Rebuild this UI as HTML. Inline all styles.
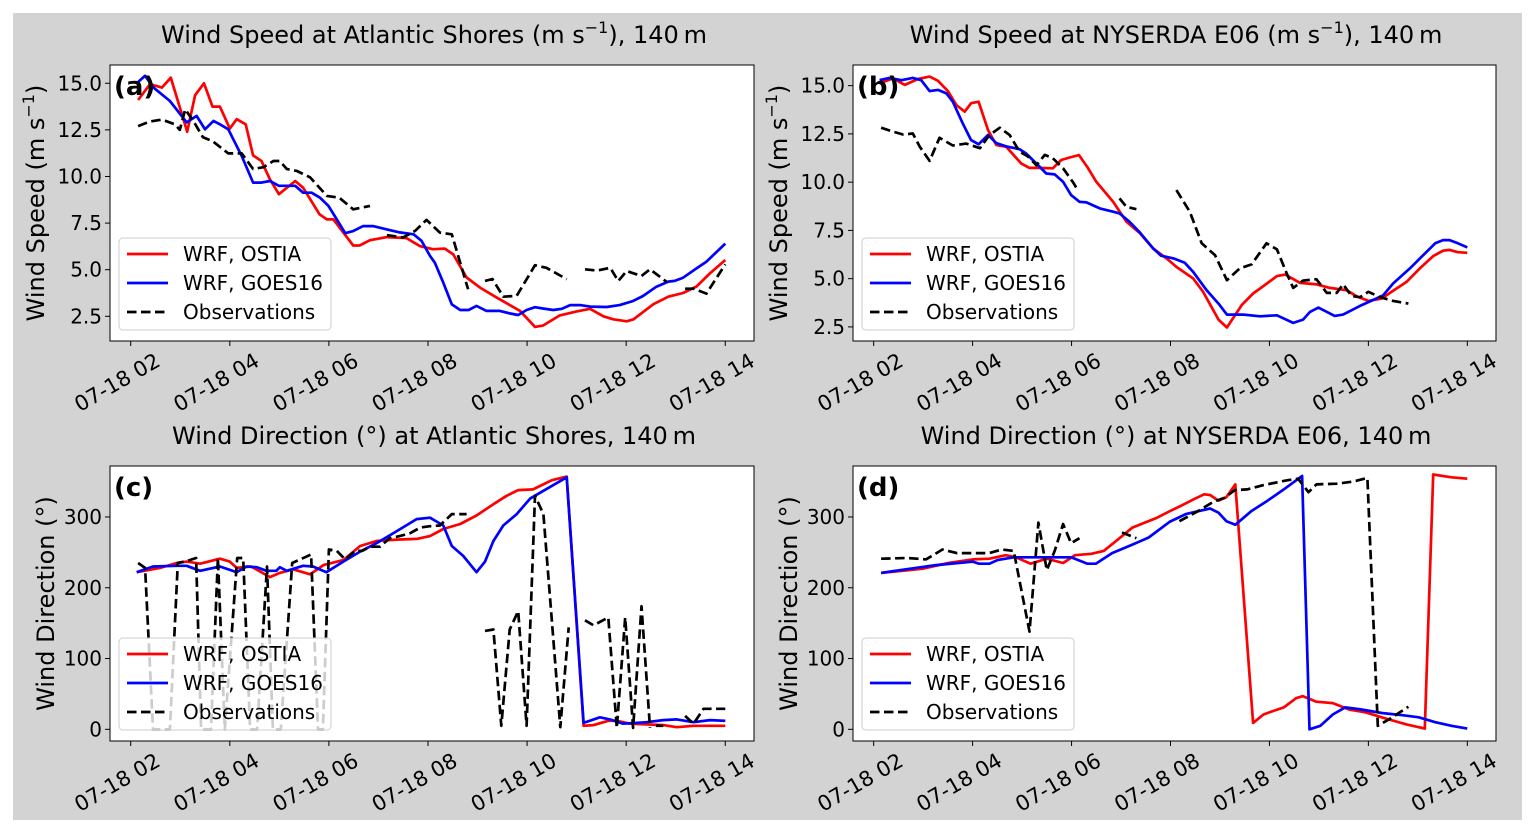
<!DOCTYPE html>
<html><head><meta charset="utf-8">
<style>
html,body{margin:0;padding:0;background:#fff;}
svg{display:block;font-family:"DejaVu Sans","Liberation Sans",sans-serif;}
</style></head>
<body>
<svg id="fig" width="1535" height="832" viewBox="0 0 1535 832">
<rect x="13" y="13" width="1509" height="807" fill="#d3d3d3"/>
</svg>
<script>
// ---------- data (hours since 07-18 00, values) ----------
// Panel (a) wind speed Atlantic Shores
const aRedT=[2.15,2.39,2.63,2.81,3.14,3.30,3.48,3.65,3.80,4.0,4.14,4.32,4.47,4.64,4.81,4.99,5.32,5.48,5.81,5.96,6.09,6.49,6.62,6.83,7.17,7.56,7.84,8.10,8.34,8.51,8.78,9.05,9.39,9.86,10.16,10.32,10.66,10.99,11.27,11.54,11.74,12.01,12.15,12.55,12.85,13.15,13.42,13.69,14.0];
const aRedV=[14.1,14.95,14.77,15.3,12.4,14.36,15.0,13.75,13.75,12.57,13.07,12.8,11.13,10.83,9.85,9.05,9.76,9.4,7.97,7.7,7.7,6.3,6.3,6.58,6.75,6.7,6.26,6.1,6.13,5.82,4.58,4.04,3.5,2.79,1.93,2.0,2.55,2.75,2.9,2.5,2.34,2.23,2.34,3.15,3.55,3.75,4.1,4.8,5.52];
const aBlueT=[2.15,2.29,2.46,2.79,3.13,3.33,3.5,3.67,3.80,3.97,4.24,4.47,4.64,4.81,4.99,5.32,5.48,5.65,5.82,5.99,6.16,6.33,6.49,6.69,6.89,7.17,7.43,7.71,7.87,8.04,8.14,8.31,8.48,8.65,8.82,8.98,9.18,9.45,9.66,9.82,9.99,10.16,10.32,10.53,10.7,10.87,11.07,11.27,11.61,11.87,12.14,12.34,12.61,12.85,12.98,13.15,13.42,13.62,14.0];
const aBlueV=[15.07,15.4,14.77,14.05,12.9,13.25,12.53,12.98,12.8,12.53,11.1,9.67,9.67,9.76,9.5,9.5,9.13,9.13,8.86,8.42,7.7,6.96,7.07,7.34,7.34,7.16,7.0,6.9,6.55,5.74,5.37,4.3,3.14,2.84,2.84,3.06,2.79,2.79,2.65,2.57,2.84,2.99,2.92,2.84,2.9,3.1,3.1,3.02,3.0,3.1,3.32,3.59,4.09,4.36,4.4,4.57,5.07,5.43,6.4];
const aObsT=[2.15,2.39,2.63,2.89,2.99,3.1,3.26,3.46,3.65,3.97,4.24,4.47,4.68,4.88,5.01,5.15,5.35,5.62,5.96,6.21,6.49,6.83,6.95,7.17,7.5,7.74,7.97,8.24,8.48,8.81,8.98,9.15,9.3,9.52,9.79,10.16,10.39,10.8,10.98,11.17,11.41,11.68,11.84,12.01,12.31,12.48,12.82,13.0,13.19,13.36,13.62,14.0];
const aObsV=[12.7,12.95,13.05,12.8,12.5,13.6,13.0,12.1,11.9,11.24,11.24,10.4,10.5,10.83,10.83,10.4,10.3,9.95,8.96,8.86,8.24,8.42,null,6.85,6.73,7.08,7.67,6.99,6.9,3.95,null,4.4,4.5,3.55,3.6,5.24,5.1,4.49,null,5.02,4.95,5.1,4.39,4.93,4.66,5.02,4.34,null,3.98,3.98,3.72,5.29];
// Panel (b) wind speed NYSERDA E06
const bRedT=[2.12,2.39,2.63,2.9,3.13,3.3,3.5,3.67,3.84,3.97,4.12,4.31,4.48,4.68,4.98,5.15,5.32,5.62,5.79,5.96,6.15,6.33,6.5,6.84,7.11,7.38,7.65,7.92,8.12,8.46,8.66,8.97,9.14,9.44,9.67,9.87,10.15,10.32,10.62,10.96,11.22,11.56,11.76,12.0,12.27,12.5,12.77,13.04,13.31,13.51,13.64,13.81,14.0];
const bRedV=[15.12,15.38,15.04,15.35,15.47,15.25,14.72,14.0,13.65,14.09,14.17,12.7,11.92,11.83,10.97,10.74,10.74,10.72,11.15,11.28,11.4,10.74,10.02,8.98,7.95,7.36,6.56,6.05,5.61,5.01,4.32,2.88,2.47,3.63,4.23,4.6,5.13,5.21,4.78,4.7,4.52,4.4,4.09,3.85,3.97,4.37,4.83,5.53,6.17,6.45,6.49,6.37,6.34];
const bBlueT=[2.12,2.32,2.56,2.79,2.96,3.13,3.3,3.47,3.6,3.8,3.97,4.12,4.31,4.48,4.68,4.95,5.08,5.32,5.49,5.66,5.83,5.99,6.16,6.3,6.57,6.84,6.97,7.17,7.37,7.65,7.81,8.06,8.29,8.46,8.73,8.97,9.14,9.48,9.81,10.15,10.48,10.68,10.82,10.99,11.32,11.49,11.83,12.1,12.3,12.5,12.84,13.11,13.35,13.51,13.64,13.81,14.0];
const bBlueV=[15.29,15.4,15.28,15.4,15.28,14.72,14.78,14.6,14.17,13.05,12.18,11.96,12.45,12.02,11.85,11.71,11.49,10.89,10.45,10.4,10.02,9.33,8.98,8.95,8.64,8.47,8.38,7.95,7.43,6.56,6.19,6.05,5.82,5.35,4.4,3.71,3.14,3.14,3.05,3.1,2.71,2.88,3.28,3.5,3.07,3.14,3.59,3.9,4.14,4.75,5.53,6.22,6.83,7.0,7.0,6.83,6.62];
const bObsT=[2.15,2.39,2.59,2.79,2.93,3.13,3.33,3.6,3.87,4.15,4.34,4.55,4.75,4.95,5.12,5.29,5.46,5.62,5.83,6.03,6.13,6.5,6.97,7.11,7.31,7.7,8.12,8.39,8.63,8.9,9.14,9.4,9.64,9.94,10.15,10.35,10.48,10.68,10.95,11.16,11.36,11.49,11.66,11.83,12.0,12.24,12.5,12.81];
const bObsV=[12.82,12.62,12.47,12.52,11.84,11.1,12.3,11.9,12.0,11.76,12.44,12.82,12.44,11.58,11.33,10.88,11.41,11.24,10.72,10.0,9.56,null,9.16,8.72,8.6,null,9.59,8.47,6.83,6.22,4.92,5.53,5.74,6.83,6.52,5.27,4.52,4.9,4.97,4.26,4.26,4.71,4.1,4.04,4.32,4.04,3.85,3.71];
// Panel (c) wind direction Atlantic Shores
const cRedT=[2.12,2.59,2.93,3.13,3.4,3.8,4.0,4.14,4.43,4.81,5.01,5.28,5.62,5.89,6.29,6.63,6.96,7.37,7.77,8.04,8.31,8.65,8.98,9.32,9.59,9.82,10.12,10.5,10.8,11.14,11.34,11.64,11.81,12.08,12.41,12.75,13.02,13.36,13.69,14.0];
const cRedV=[222,228,235,237,234,241,237,228,230,215,221,226,219,232,239,259,266,268,269,273,283,290,302,318,330,338,339,352,357,5,6,12,12,8,7,6,3,5,5,5];
const cBlueT=[2.12,2.45,2.93,3.13,3.4,3.8,4.14,4.34,4.54,4.74,4.94,5.01,5.15,5.48,5.68,5.95,6.29,6.63,6.96,7.37,7.77,8.04,8.31,8.48,8.71,8.98,9.15,9.32,9.52,9.79,10.06,10.33,10.8,11.14,11.47,11.67,11.94,12.41,12.75,13.02,13.36,13.69,14.0];
const cBlueV=[222,230,231,231,224,230,222,230,229,224,224,229,224,231,230,222,237,251,263,280,297,299,288,259,245,222,237,266,288,304,326,337,356,9,17,14,8,10,13,14,10,13,12];
const cObsT=[2.15,2.29,2.45,2.79,2.95,3.14,3.32,3.42,3.62,3.76,3.90,4.15,4.27,4.41,4.55,4.75,4.87,5.03,5.26,5.42,5.64,5.78,5.88,6.0,6.16,6.33,6.53,6.67,6.83,7.03,7.23,7.43,7.64,7.84,8.04,8.24,8.48,8.78,8.95,9.15,9.32,9.48,9.65,9.82,9.99,10.16,10.33,10.67,10.84,11.0,11.17,11.34,11.64,11.81,11.98,12.14,12.31,12.48,12.55,12.6,12.75,12.9,13.19,13.36,13.56,14.0];
const cObsV=[235,228,0,0,235,238,242,0,0,242,0,242,242,0,0,230,0,0,235,240,247,0,0,254,252,240,252,252,258,258,270,273,277,285,287,288,304,304,null,139,141,5,141,167,5,330,304,3,144,null,154,147,158,2,158,2,174,2,null,5,5,null,19,8,29,29];
// Panel (d) wind direction NYSERDA E06
const dRedT=[2.15,3.0,3.51,4.0,4.34,4.67,4.88,5.17,5.5,5.83,6.07,6.4,6.65,6.9,7.23,7.48,7.73,7.98,8.22,8.47,8.68,8.8,8.97,9.13,9.31,9.67,9.88,10.04,10.29,10.54,10.67,10.95,11.28,11.61,11.94,12.36,12.77,13.14,13.31,13.68,14.0];
const dRedV=[221,227,235,240,241,246,243,234,241,235,246,248,252,266,285,292,299,308,316,325,332,331,323,328,346,9,21,25,31,44,47,39,37,28,24,15,7,1,360,356,354];
const dBlueT=[2.15,3.26,4.0,4.13,4.34,4.5,4.83,5.41,5.99,6.32,6.49,6.82,7.23,7.56,7.98,8.31,8.55,8.8,8.97,9.13,9.31,9.63,9.96,10.29,10.66,10.81,11.03,11.28,11.53,11.86,12.27,12.69,13.02,13.35,13.68,14.0];
const dBlueV=[221,232,237,234,234,239,243,243,243,234,234,249,261,271,293,304,308,312,306,294,289,308,323,339,358,0,5,21,31,28,23,20,17,10,5,1];
const dObsT=[2.15,2.69,3.06,3.39,3.68,4.0,4.34,4.59,4.83,5.15,5.33,5.5,5.66,5.83,5.99,6.16,6.6,7.02,7.31,7.7,8.18,8.55,8.88,9.09,9.3,9.55,9.88,10.37,10.58,10.79,10.95,11.36,11.69,11.98,12.19,12.44,12.81];
const dObsV=[241,242,240,254,249,249,249,254,252,138,292,225,252,290,263,270,null,278,270,null,294,308,322,327,338,339,345,352,354,335,346,347,350,355,5,15,32];
const xTickHours=[2,4,6,8,10,12,14];
const xTickLabels=["07-18 02","07-18 04","07-18 06","07-18 08","07-18 10","07-18 12","07-18 14"];
const speedTicks=[2.5,5.0,7.5,10.0,12.5,15.0];
const speedTickLabels=["2.5","5.0","7.5","10.0","12.5","15.0"];
const dirTicks=[0,100,200,300];
const dirTickLabels=["0","100","200","300"];

const NS="http://www.w3.org/2000/svg";
const svg=document.getElementById('fig');
function mk(tag,attrs,parent){const e=document.createElementNS(NS,tag);for(const k in attrs)e.setAttribute(k,attrs[k]);(parent||svg).appendChild(e);return e;}

const XMIN=1.582,XMAX=14.58;
const panels=[
 {id:'a',x0:110,x1:754,y0:65,y1:341,ymin:1.175,ymax:15.98,ticks:speedTicks,tl:speedTickLabels,
  title:['Wind Speed at Atlantic Shores (m s','−1',"), 140\u2009m"],ylab:'speed',
  r:[aRedT,aRedV],b:[aBlueT,aBlueV],o:[aObsT,aObsV],legY:238,tx:434},
 {id:'b',x0:853,x1:1496,y0:65,y1:341,ymin:1.77,ymax:16.07,ticks:speedTicks,tl:speedTickLabels,
  title:['Wind Speed at NYSERDA E06 (m s','−1',"), 140\u2009m"],ylab:'speed',
  r:[bRedT,bRedV],b:[bBlueT,bBlueV],o:[bObsT,bObsV],legY:238,tx:1176},
 {id:'c',x0:110,x1:754,y0:466,y1:741,ymin:-16.5,ymax:372,ticks:dirTicks,tl:dirTickLabels,
  title:['Wind Direction (°) at Atlantic Shores, 140\u2009m'],ylab:'dir',
  r:[cRedT,cRedV],b:[cBlueT,cBlueV],o:[cObsT,cObsV],legY:638,tx:434},
 {id:'d',x0:853,x1:1496,y0:466,y1:741,ymin:-16.5,ymax:372,ticks:dirTicks,tl:dirTickLabels,
  title:['Wind Direction (°) at NYSERDA E06, 140\u2009m'],ylab:'dir',
  r:[dRedT,dRedV],b:[dBlueT,dBlueV],o:[dObsT,dObsV],legY:638,tx:1176}
];

panels.forEach(p=>{
  const g=mk('g',{});
  
  
  const sx=t=>p.x0+(t-XMIN)/(XMAX-XMIN)*(p.x1-p.x0);
  const sy=v=>p.y1-(v-p.ymin)/(p.ymax-p.ymin)*(p.y1-p.y0);
  const bg=mk('rect',{x:p.x0,y:p.y0,width:p.x1-p.x0,height:p.y1-p.y0,fill:'#fff'},g);
  
  
  // title
  const tt=mk('text',{x:p.tx,y:p.y0-22,'font-size':'24','text-anchor':'middle',fill:'#000'},g);
  
  
  const s1=mk('tspan',{},tt);s1.textContent=p.title[0];
  if(p.title.length>1){const s2=mk('tspan',{dy:'-10','font-size':'16'},tt);s2.textContent=p.title[1];
    const s3=mk('tspan',{dy:'10'},tt);s3.textContent=p.title[2];}
  // y label
  const cy=(p.y0+p.y1)/2;
  const lx=p.ylab==='speed'?p.x0-66:p.x0-56;
  const yl=mk('text',{x:lx,y:cy,'font-size':'24','text-anchor':'middle',transform:`rotate(-90 ${lx} ${cy})`},g);
  
  
  if(p.ylab==='speed'){const a=mk('tspan',{},yl);a.textContent='Wind Speed (m s';const b2=mk('tspan',{dy:'-10','font-size':'16'},yl);b2.textContent='−1';const c2=mk('tspan',{dy:'10'},yl);c2.textContent=')';}
  else yl.textContent='Wind Direction (°)';
  // y ticks
  p.ticks.forEach((v,i)=>{
    const y=sy(v);
    const tk=mk('line',{x1:p.x0-5,x2:p.x0,y1:y,y2:y,stroke:'#000','stroke-width':1},g);
    
    
    const tl=mk('text',{x:p.x0-8,y:y+7,'font-size':'20','text-anchor':'end'},g);
    
    
    tl.textContent=p.tl[i];
  });
  // x ticks
  xTickHours.forEach((h,i)=>{
    const x=sx(h);
    const tk=mk('line',{x1:x,x2:x,y1:p.y1,y2:p.y1+5,stroke:'#000','stroke-width':1},g);
    
    
    const ax=x+31, ay=p.y1+24;
    const tl=mk('text',{x:ax,y:ay,'font-size':'21','text-anchor':'end',transform:`rotate(-30 ${ax} ${ay})`},g);
    
    
    tl.textContent=xTickLabels[i];
  });
  // series
  function series(T,V,color,dash,name){
    let d='',pen=false;
    for(let i=0;i<T.length;i++){
      if(V[i]===null){pen=false;continue;}
      d+=(pen?'L':'M')+sx(T[i]).toFixed(1)+','+sy(V[i]).toFixed(1);pen=true;
    }
    const a={d:d,fill:'none',stroke:color,'stroke-width':2.7,'stroke-linejoin':'round'};
    if(dash)a['stroke-dasharray']='9.5,4.5';
    const path=mk('path',a,g);
    
    
  }
  series(p.r[0],p.r[1],'#ff0000',false,'series-wrf-ostia-'+p.id);
  series(p.b[0],p.b[1],'#0000ff',false,'series-wrf-goes16-'+p.id);
  series(p.o[0],p.o[1],'#000',true,'series-observations-'+p.id);
  // frame
  const fr=mk('rect',{x:p.x0,y:p.y0,width:p.x1-p.x0,height:p.y1-p.y0,fill:'none',stroke:'#000','stroke-width':1},g);
  
  
  // panel label
  const pl=mk('text',{x:p.x0+4,y:p.y0+30,'font-size':'26','font-weight':'bold'},g);
  
  
  pl.textContent='('+p.id+')';
  // legend
  const lg=mk('g',{},g);
  
  
  mk('rect',{x:p.x0+9,y:p.legY,width:212,height:92,rx:4,fill:'rgba(255,255,255,0.8)',stroke:'#ccc','stroke-width':1},lg);
  [['WRF, OSTIA','#ff0000',false],['WRF, GOES16','#0000ff',false],['Observations','#000',true]].forEach((e,i)=>{
    const ly=p.legY+16+i*29;
    const en=mk('g',{},lg);
    
    
    const la={x1:p.x0+17,x2:p.x0+58,y1:ly,y2:ly,stroke:e[1],'stroke-width':2.7};
    if(e[2])la['stroke-dasharray']='9.5,4.5';
    mk('line',la,en);
    const lt=mk('text',{x:p.x0+73,y:ly+7,'font-size':'20'},en);
    lt.textContent=e[0];
  });
});
</script>
</body></html>
